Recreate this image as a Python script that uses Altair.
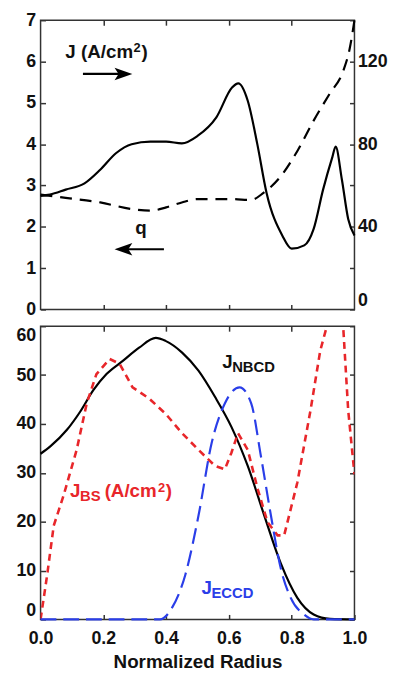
import altair as alt
import pandas as pd

FONT = "Liberation Sans"
RED = "#e8262a"
BLUE = "#2a3ee8"
INK = "#111111"
FRAME = "#333333"

# ---- top panel: total current J (right axis) and safety factor q (left axis)
J_x = [0.0, 0.03, 0.08, 0.14, 0.19, 0.24, 0.29, 0.35, 0.40, 0.45, 0.50, 0.56, 0.61, 0.63,
       0.66, 0.69, 0.72, 0.77, 0.80, 0.84, 0.87, 0.90, 0.93, 0.94, 0.96, 0.98, 1.0]
J_val = [55, 55.6, 58, 61, 67.6, 75.6, 80, 81.2, 81.2, 80.4, 84, 93, 107.4, 109.4,
         101, 80.4, 56.4, 35.8, 29.4, 31, 39, 58, 74, 78.8, 62.8, 43.8, 35.8]
q_x = [0.0, 0.08, 0.19, 0.29, 0.35, 0.40, 0.45, 0.50, 0.61, 0.67, 0.71, 0.765, 0.82,
       0.87, 0.92, 0.964, 0.985, 1.0]
q_val = [2.78, 2.70, 2.59, 2.43, 2.39, 2.47, 2.59, 2.67, 2.67, 2.65, 2.82, 3.22, 3.86,
         4.57, 5.21, 5.77, 6.32, 7.0]

# ---- bottom panel: current drive components
nb_x = [0.0, 0.031, 0.084, 0.126, 0.168, 0.21, 0.262, 0.314, 0.367, 0.398, 0.451, 0.503,
        0.556, 0.608, 0.66, 0.713, 0.765, 0.818, 0.87, 0.922, 1.0]
nb_val = [33.9, 35.4, 38.8, 42.5, 46.9, 50.2, 52.9, 55.6, 57.6, 57.0, 54.6, 50.9,
          45.5, 39.4, 31.4, 21.2, 11.5, 4.4, 1.0, 0.1, 0.0]
bs_x = [0.0, 0.021, 0.042, 0.073, 0.115, 0.147, 0.178, 0.22, 0.252, 0.293, 0.346, 0.398,
        0.451, 0.503, 0.556, 0.587, 0.608, 0.629, 0.66, 0.692, 0.723, 0.755, 0.776, 0.818,
        0.86, 0.891, 0.912, 0.94, 0.964, 0.98, 1.0]
bs_val = [0.0, 9.1, 19.2, 25.3, 34.7, 44.2, 50.2, 53.3, 52.3, 47.5, 45.2, 42.1,
          38.1, 34.7, 31.4, 30.7, 34.1, 38.1, 34.7, 26.6, 19.9, 17.2, 17.2, 28.0,
          42.8, 55.0, 60.0, 68.0, 60.0, 42.8, 29.7]
ec_x = [0.0, 0.1, 0.2, 0.3, 0.38, 0.419, 0.461, 0.503, 0.545, 0.587, 0.634, 0.671, 0.702,
        0.734, 0.765, 0.797, 0.839, 0.87, 0.92, 1.0]
ec_val = [0, 0, 0, 0, 0, 2.4, 9.1, 21.2, 36.1, 44.2, 47.5, 44.2, 33.4,
          21.2, 10.5, 4.4, 1.0, 0, 0, 0]

# ---- annotations
top_label = {"x": [0.079], "q": [6.09]}
q_label = {"x": [0.32], "q": [1.82], "t": ["q"]}
arrow_r = {"x": [0.135], "x2": [0.275], "q": [5.70]}
arrow_r_head = {"x": [0.264], "q": [5.70]}
arrow_l = {"x": [0.255], "x2": [0.393], "q": [1.457]}
arrow_l_head = {"x": [0.264], "q": [1.457]}

nb_label = {"x": [0.579], "y": [51.5]}
bs_label = {"x": [0.094], "y": [25.0]}
ec_label = {"x": [0.513], "y": [5.25]}

XS = alt.Scale(domain=[0, 1], nice=False, zero=False)
TICKS = dict(domain=False, ticks=True, tickSize=5, offset=-5, grid=False, title=None,
             tickColor=FRAME, tickWidth=1.5)


def x_ticks_only(orient):
    return alt.Axis(orient=orient, values=[0.2, 0.4, 0.6, 0.8], labels=False, **TICKS)


def text_layer(d, yfield, color, size, text, dx=0, dy=0, align="left"):
    df = pd.DataFrame(d)
    ch = alt.Chart(df).mark_text(font=FONT, fontWeight="bold", fontSize=size, color=color,
                                 align=align, baseline="alphabetic", dx=dx, dy=dy)
    return ch.encode(x=alt.X("x:Q", axis=None), y=alt.Y(f"{yfield}:Q", axis=None),
                     text=alt.value(text))


def plain_text(d, yfield, color, size, text, dx=0, dy=0, align="left"):
    df = pd.DataFrame(d)
    return alt.Chart(df).mark_text(font=FONT, fontWeight="bold", fontSize=size, color=color,
                                   align=align, baseline="alphabetic", dx=dx, dy=dy).encode(
        x="x:Q", y=f"{yfield}:Q", text=alt.value(text))


# ---------------- top panel
qdf = pd.DataFrame({"x": q_x, "q": q_val})
Jdf = pd.DataFrame({"x": J_x, "J": J_val})

q_line = alt.Chart(qdf).mark_line(color="black", strokeWidth=2.2, strokeDash=[12, 8],
                                  interpolate="monotone").encode(
    x=alt.X("x:Q", scale=XS, axis=x_ticks_only("bottom")),
    y=alt.Y("q:Q", scale=alt.Scale(domain=[0, 7], nice=False, zero=True),
            axis=alt.Axis(orient="left", values=list(range(8)), labelPadding=5, **TICKS)),
)

ar_r = alt.Chart(pd.DataFrame(arrow_r)).mark_rule(color="black", strokeWidth=2.2).encode(
    x="x:Q", x2="x2:Q", y="q:Q")
ar_r_h = alt.Chart(pd.DataFrame(arrow_r_head)).mark_point(
    shape="M1,0 L-1,-0.7 L-0.55,0 L-1,0.7 Z", filled=True, color="black", opacity=1,
    size=324).encode(x="x:Q", y="q:Q")
ar_l = alt.Chart(pd.DataFrame(arrow_l)).mark_rule(color="black", strokeWidth=2.2).encode(
    x="x:Q", x2="x2:Q", y="q:Q")
ar_l_h = alt.Chart(pd.DataFrame(arrow_l_head)).mark_point(
    shape="M-1,0 L1,-0.7 L0.55,0 L1,0.7 Z", filled=True, color="black", opacity=1,
    size=324).encode(x="x:Q", y="q:Q")

t_J1 = plain_text(top_label, "q", INK, 19, "J (A/cm")
t_J2 = plain_text(top_label, "q", INK, 13, "2", dx=69, dy=-6)
t_J3 = plain_text(top_label, "q", INK, 19, ")", dx=77)
t_q = alt.Chart(pd.DataFrame(q_label)).mark_text(
    font=FONT, fontWeight="bold", fontSize=19, color=INK, align="center",
    baseline="alphabetic").encode(x="x:Q", y="q:Q", text="t:N")

q_layer = alt.layer(q_line, ar_r, ar_r_h, ar_l, ar_l_h, t_J1, t_J2, t_J3, t_q)

J_line = alt.Chart(Jdf).mark_line(color="black", strokeWidth=2.2,
                                  interpolate="monotone").encode(
    x=alt.X("x:Q", scale=XS, axis=x_ticks_only("top")),
    y=alt.Y("J:Q", scale=alt.Scale(domain=[0, 140], nice=False, zero=True),
            axis=alt.Axis(orient="right", values=list(range(0, 141, 20)), labelPadding=3,
                          labelFlush=True,
                          labelExpr="datum.value % 40 == 0 ? datum.label : ''", **TICKS)),
)

top = alt.layer(q_layer, J_line).resolve_scale(y="independent").resolve_axis(
    x="independent").properties(width=318, height=293)

# ---------------- bottom panel
YS = alt.Scale(domain=[0, 60], nice=False, zero=True)
nbdf = pd.DataFrame({"x": nb_x, "y": nb_val})
bsdf = pd.DataFrame({"x": bs_x, "y": bs_val})
ecdf = pd.DataFrame({"x": ec_x, "y": ec_val})

nb_line = alt.Chart(nbdf).mark_line(color="black", strokeWidth=2.2,
                                    interpolate="monotone").encode(
    x=alt.X("x:Q", scale=XS,
            axis=alt.Axis(orient="bottom", values=[0, 0.2, 0.4, 0.6, 0.8, 1.0], format=".1f",
                          labelPadding=10, labelFlush=False, title="Normalized Radius",
                          titlePadding=6, domain=False, ticks=True, tickSize=5, offset=-5,
                          grid=False, tickColor=FRAME, tickWidth=1.5)),
    y=alt.Y("y:Q", scale=YS,
            axis=alt.Axis(orient="left", values=list(range(0, 61, 10)), labelPadding=5,
                          labelFlush=True, **TICKS)),
)
bs_line = alt.Chart(bsdf).mark_line(color=RED, strokeWidth=2.6, strokeDash=[7, 5],
                                    clip=True).encode(
    x=alt.X("x:Q", axis=None), y=alt.Y("y:Q", axis=None))
ec_line = alt.Chart(ecdf).mark_line(color=BLUE, strokeWidth=2.2, strokeDash=[16, 7],
                                    interpolate="monotone").encode(
    x=alt.X("x:Q", axis=None), y=alt.Y("y:Q", axis=None))
mirror = alt.Chart(nbdf).mark_line(opacity=0).encode(
    x=alt.X("x:Q", axis=x_ticks_only("top")),
    y=alt.Y("y:Q", axis=alt.Axis(orient="right", values=list(range(0, 61, 10)),
                                 labels=False, **TICKS)))

nb_J = text_layer(nb_label, "y", INK, 19, "J")
nb_s = text_layer(nb_label, "y", INK, 15, "NBCD", dx=10, dy=4)
bs_J = text_layer(bs_label, "y", RED, 19, "J")
bs_s = text_layer(bs_label, "y", RED, 15, "BS", dx=10, dy=4)
bs_u1 = text_layer(bs_label, "y", RED, 19, "(A/cm", dx=35)
bs_u2 = text_layer(bs_label, "y", RED, 13, "2", dx=89, dy=-5)
bs_u3 = text_layer(bs_label, "y", RED, 19, ")", dx=97)
ec_J = text_layer(ec_label, "y", BLUE, 19, "J")
ec_s = text_layer(ec_label, "y", BLUE, 15, "ECCD", dx=10, dy=4)

bottom = alt.layer(nb_line, mirror, bs_line, ec_line, nb_J, nb_s, bs_J, bs_s, bs_u1, bs_u2,
                   bs_u3, ec_J, ec_s).resolve_axis(x="independent", y="independent").properties(
    width=318, height=297)

chart = alt.vconcat(top, bottom, spacing=17, bounds="flush").configure_view(
    stroke=FRAME, strokeWidth=1.5).configure_axis(
    labelFont=FONT, labelFontSize=18, labelFontWeight="bold", labelColor=INK,
    titleFont=FONT, titleFontSize=19, titleFontWeight="bold", titleColor=INK,
).properties(padding={"left": 7, "top": -2, "right": 2, "bottom": 2})

chart.save("out.html", embed_options={"renderer": "svg", "actions": False})
